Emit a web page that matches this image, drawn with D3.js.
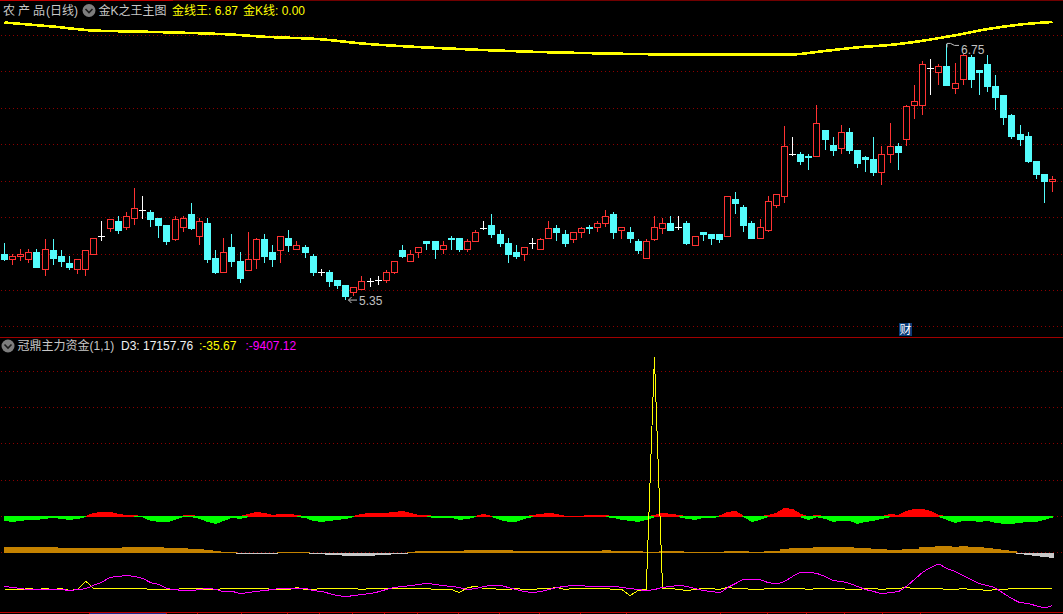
<!DOCTYPE html>
<html><head><meta charset="utf-8">
<script src="https://cdn.jsdelivr.net/npm/d3@7/dist/d3.min.js"></script>
<style>html,body{margin:0;padding:0;background:#000;overflow:hidden}svg{display:block}text{font-family:"Liberation Sans","Noto Sans CJK SC",sans-serif}</style>
</head><body><div id="c"></div>
<script>
const opens=[5.60,5.57,5.59,5.57,5.61,5.52,5.62,5.59,5.55,5.52,
5.52,5.60,5.70,5.74,5.78,5.75,5.80,5.84,5.83,5.80,
5.76,5.68,5.75,5.82,5.70,5.77,5.58,5.50,5.64,5.56,
5.51,5.57,5.68,5.61,5.62,5.69,5.63,5.64,5.59,5.50,
5.50,5.46,5.43,5.39,5.41,5.45,5.46,5.46,5.50,5.62,
5.56,5.61,5.67,5.67,5.63,5.69,5.69,5.63,5.67,5.74,
5.76,5.71,5.66,5.61,5.60,5.66,5.63,5.69,5.74,5.71,
5.68,5.72,5.75,5.75,5.77,5.82,5.73,5.72,5.67,5.58,
5.68,5.74,5.77,5.75,5.77,5.65,5.72,5.71,5.71,5.70,
5.90,5.86,5.77,5.69,5.73,5.87,5.92,6.15,6.15,6.14,
6.14,6.28,6.20,6.18,6.27,6.17,6.13,6.12,6.05,6.15,
6.19,6.23,6.42,6.42,6.62,6.60,6.63,6.51,6.56,6.68,
6.61,6.64,6.52,6.47,6.36,6.26,6.25,6.11,6.04,6.00];
const closes=[5.57,5.59,5.60,5.61,5.53,5.63,5.58,5.56,5.53,5.57,
5.62,5.69,5.70,5.79,5.73,5.81,5.85,5.84,5.79,5.76,
5.67,5.79,5.80,5.74,5.78,5.57,5.50,5.61,5.56,5.47,
5.57,5.68,5.59,5.57,5.70,5.65,5.65,5.61,5.50,5.50,
5.45,5.43,5.37,5.42,5.45,5.45,5.46,5.50,5.56,5.59,
5.60,5.64,5.66,5.63,5.65,5.68,5.63,5.67,5.72,5.74,
5.71,5.66,5.60,5.59,5.64,5.66,5.68,5.74,5.72,5.66,
5.72,5.74,5.74,5.77,5.81,5.72,5.75,5.69,5.62,5.67,
5.75,5.77,5.73,5.75,5.66,5.70,5.71,5.69,5.68,5.92,
5.88,5.76,5.69,5.75,5.89,5.93,6.19,6.15,6.11,6.13,
6.32,6.23,6.17,6.27,6.17,6.10,6.12,6.05,6.15,6.19,
6.16,6.41,6.44,6.64,6.62,6.63,6.53,6.54,6.69,6.56,
6.60,6.52,6.46,6.35,6.25,6.23,6.11,6.04,6.00,6.01];
const highs=[5.66,5.60,5.63,5.63,5.63,5.68,5.68,5.62,5.59,5.57,
5.62,5.69,5.78,5.79,5.81,5.83,5.96,5.92,5.84,5.80,
5.76,5.81,5.81,5.88,5.80,5.80,5.62,5.69,5.71,5.61,
5.72,5.69,5.71,5.65,5.70,5.73,5.67,5.65,5.60,5.52,
5.51,5.46,5.43,5.42,5.48,5.47,5.48,5.51,5.56,5.65,
5.62,5.64,5.67,5.67,5.67,5.70,5.69,5.68,5.73,5.78,
5.82,5.73,5.69,5.65,5.64,5.69,5.69,5.78,5.76,5.73,
5.72,5.75,5.76,5.78,5.84,5.83,5.75,5.75,5.68,5.68,
5.81,5.80,5.81,5.81,5.78,5.70,5.72,5.71,5.71,5.92,
5.94,5.87,5.78,5.79,5.92,5.93,6.30,6.24,6.16,6.15,
6.42,6.28,6.24,6.31,6.29,6.17,6.14,6.24,6.19,6.32,
6.21,6.42,6.53,6.66,6.67,6.64,6.75,6.65,6.70,6.69,
6.61,6.69,6.58,6.47,6.37,6.31,6.27,6.11,6.04,6.03];
const lows=[5.56,5.54,5.56,5.55,5.53,5.48,5.54,5.53,5.51,5.49,
5.48,5.60,5.67,5.72,5.71,5.73,5.76,5.79,5.75,5.69,
5.65,5.67,5.72,5.73,5.65,5.55,5.49,5.50,5.53,5.44,
5.51,5.52,5.55,5.53,5.55,5.61,5.62,5.58,5.48,5.48,
5.42,5.41,5.35,5.37,5.40,5.42,5.43,5.44,5.49,5.58,
5.56,5.58,5.62,5.57,5.60,5.62,5.61,5.61,5.67,5.73,
5.69,5.64,5.55,5.57,5.56,5.63,5.63,5.68,5.67,5.64,
5.66,5.69,5.71,5.72,5.75,5.68,5.68,5.66,5.60,5.57,
5.67,5.71,5.73,5.73,5.65,5.65,5.67,5.65,5.66,5.70,
5.82,5.72,5.68,5.69,5.72,5.85,5.88,6.14,6.09,6.06,
6.13,6.17,6.14,6.15,6.15,6.07,6.05,6.03,5.98,6.10,
6.06,6.19,6.34,6.36,6.47,6.53,6.52,6.48,6.53,6.51,
6.47,6.49,6.39,6.31,6.23,6.19,6.10,6.01,5.88,5.94];
const goldDays=[0,6,11,17,22,28,32,39,44,52,59,66,74,81,88,95,97,101,105,109,113,117,121,125,129];
const goldLine=[6.87,6.848,6.826,6.82,6.814,6.804,6.792,6.778,6.755,6.733,6.719,6.708,6.70,6.695,6.693,6.694,6.695,6.714,6.734,6.747,6.77,6.80,6.834,6.859,6.873];
const priceTicks=[6.8,6.6,6.4,6.2,6.0,5.8,5.6,5.4,5.2];
const mainFund=[-3.7,-4.7,-3.7,-2.7,-2.7,-1.7,-0.7,-1.7,-2.7,-1.7,
0.3,3.3,4.3,4.3,2.3,1.3,1.3,-0.3,-3.7,-4.7,
-5.3,-2.7,0.7,1.3,-1.7,-4.7,-6.7,-3.7,-0.7,-1.7,
2.3,4.3,3.3,1.3,2.3,2.3,1.3,-0.7,-3.7,-4.7,
-3.7,-2.7,-1.7,0.3,2.3,3.3,3.3,3.3,4.3,5.3,
3.3,1.3,1.3,-0.7,-0.7,-0.7,-2.7,-1.7,0.3,2.3,
0.3,-2.7,-4.7,-4.7,-1.7,1.3,2.3,3.3,2.3,0.3,
0.3,0.3,1.3,1.3,1.3,-0.7,-2.7,-3.7,-4.7,-2.7,
1.3,3.3,2.3,1.3,-1.7,-2.7,-0.7,-0.7,0.7,4.3,
5.3,0.3,-4.7,-2.7,1.3,3.3,8.3,7.3,2.3,-2.7,
1.3,-1.7,-4.7,-3.7,-3.7,-6.7,-4.7,-3.7,-1.7,2.3,
1.3,5.3,7.3,7.3,5.3,1.3,-2.7,-5.7,-3.7,-3.7,
-4.7,-3.7,-5.7,-6.7,-6.7,-5.7,-4.7,-4.7,-2.7,-0.3];
const trendBars=[6,6,6,6,6,6,6,5,5,5,
5,5,5,5,5,6,6,6,6,6,
5,5,5,4,4,3,2,1,1,-1,
-1,-1,-1,-1,1,1,1,1,-1,-1,
-2,-2,-3,-3,-3,-3,-2,-2,-1,-1,
1,2,2,2,2,2,2,3,3,3,
3,3,3,2,2,2,2,2,2,2,
2,2,2,2,3,2,2,2,2,1,
1,2,2,2,1,1,1,1,1,2,
2,2,1,1,2,2,4,5,5,5,
6,6,6,6,6,5,5,4,4,3,
3,4,4,6,6,7,7,6,7,6,
6,5,4,3,2,-1,-2,-3,-4,-5];
const d3Line=[-110,-110,-110,-36,-110,-36,-110,-36,-185,-110,
511,-36,-36,-36,-36,-36,-36,-36,-110,-110,
-110,-110,-36,-36,-36,-110,-110,-36,-36,-36,
-36,-36,-36,-110,-110,-110,39,-110,-110,-36,
-36,-36,-36,-36,-110,-36,-36,-36,-36,-36,
-36,-36,-36,-110,-110,-110,-334,39,114,-36,
-36,-110,-110,-36,-110,-110,-36,-36,39,-110,
-36,-36,-36,-36,-36,-110,-110,-558,-185,-110,
17157.76,-36,-36,-110,-185,-110,-36,-36,-110,39,
-36,-36,-110,-110,-36,-36,-36,-36,-36,-110,
-36,-36,-36,-36,-110,-110,-36,-36,-110,-36,
-36,39,-36,-36,-36,-36,-110,-110,-36,-110,
-110,-185,-110,-110,-36,-36,-36,-36,-36,-35.67];
const flowLine=[90,-410,-910,-1410,-1410,-1410,-1410,-1410,-1910,-1410,
-910,760,2260,4590,5090,5590,5090,4090,2090,1090,
-910,-1410,-1910,-1910,-1410,-910,-1410,-2410,-2410,-3410,
-2910,-2410,-1910,-1410,-910,-910,-910,-910,-1910,-2410,
-3410,-4410,-4910,-4410,-3910,-3410,-2580,-1410,-410,90,
590,1090,1590,1090,590,90,-410,-1410,-910,90,
590,590,-410,-1410,-2410,-2910,-2410,-1410,-410,90,
590,590,90,90,90,90,-410,-910,-1410,-1910,
-1410,-410,90,590,90,-910,-1910,-2410,-2910,-410,
1590,3590,3590,3430,2090,1590,2590,5090,7090,7090,
6590,5090,3090,2590,1590,90,-1410,-2410,-3410,-2910,
-2410,90,3590,7090,9590,11090,9090,7590,5590,3590,
1590,590,-740,-3410,-5910,-7910,-8410,-9570,-10410,-9407.12];
const lowerTicks=[30,20,10,0,-10,-20];
const monthTicks=[10.5,20,23.7,29.2,34.8,38.8,42.8,46.8,50.8,55.9,60.9,65.8,70.9,76.6,88.1,93.9,98.7,103.4,108.1,112.8];
const days=d3.range(opens.length);

const W=1063,H=614;
const svg=d3.select("#c").append("svg").attr("width",W).attr("height",H).style("background","#000");
const x=d3.scaleLinear().domain([0,129]).range([4.5,1052.5]);
const px=i=>Math.floor(x(i))+0.5;
const y=d3.scaleLinear().domain([6.8,5.2]).range([35.3,326.9]);
const yFund=d3.scaleLinear().domain([-10,10]).range([526.7,506.7]);
const yTrend=d3.scaleLinear().domain([-10,10]).range([563,543]);
const yD3=d3.scaleLinear().domain([-35.67,17157.76]).range([588.5,357]);
const yFlow=d3.scaleLinear().domain([-9407.12,-9407.12+10000]).range([605.5,585.5]);
const yGrid=d3.scaleLinear().domain([30,-20]).range([371.3,552.8]);
const RED="#ff3232",CY="#54fcfc",GRID="#8c0000";

const grid=svg.append("g").attr("stroke",GRID).attr("stroke-dasharray","1 3").attr("shape-rendering","crispEdges");
grid.selectAll(".a").data(priceTicks).join("line").attr("x1",1).attr("x2",W)
 .attr("y1",d=>Math.floor(y(d))+.5).attr("y2",d=>Math.floor(y(d))+.5);
grid.selectAll(".b").data(lowerTicks).join("line").attr("x1",1).attr("x2",W)
 .attr("y1",d=>Math.floor(yGrid(d))+.5).attr("y2",d=>Math.floor(yGrid(d))+.5);

const frame=svg.append("g").attr("shape-rendering","crispEdges");
frame.append("line").attr("x1",0).attr("x2",173).attr("y1",.5).attr("y2",.5).attr("stroke","#c00000");
frame.append("line").attr("x1",173).attr("x2",W).attr("y1",.5).attr("y2",.5).attr("stroke","#700000");
frame.append("line").attr("x1",0).attr("x2",W).attr("y1",337.5).attr("y2",337.5).attr("stroke","#a00000");
frame.append("line").attr("x1",0).attr("x2",W).attr("y1",612.5).attr("y2",612.5).attr("stroke","#c00000");
frame.append("line").attr("x1",x(10.5)).attr("x2",x(20)).attr("y1",613.5).attr("y2",613.5).attr("stroke","#1c2c90");
frame.selectAll(".t").data(monthTicks).join("line").attr("x1",d=>px(d)).attr("x2",d=>px(d)).attr("y1",613).attr("y2",614).attr("stroke","#c00000");

svg.append("path").datum(goldLine).attr("fill","none").attr("stroke","#ffff00").attr("stroke-width",2.6).attr("shape-rendering","crispEdges")
 .attr("d",d3.line().x((d,i)=>x(goldDays[i])).y(d=>y(d)).curve(d3.curveMonotoneX));

const c=svg.append("g").attr("shape-rendering","crispEdges");
days.forEach(i=>{
  const o=opens[i],cl=closes[i],up=cl>o,down=cl<o;
  const col=up?RED:down?CY:"#ffffff";
  const X=px(i);
  const top=Math.round(y(Math.max(o,cl))),bot=Math.round(y(Math.min(o,cl)));
  if(up||!down){
    c.append("line").attr("x1",X).attr("x2",X).attr("y1",y(highs[i])).attr("y2",top).attr("stroke",col);
    c.append("line").attr("x1",X).attr("x2",X).attr("y1",bot).attr("y2",y(lows[i])).attr("stroke",col);
  } else {
    c.append("line").attr("x1",X).attr("x2",X).attr("y1",y(highs[i])).attr("y2",y(lows[i])).attr("stroke",col);
  }
  if(up) c.append("rect").attr("x",X-3).attr("width",6).attr("y",top+.5).attr("height",Math.max(1,bot-top)).attr("fill","#000").attr("stroke",col);
  else if(down) c.append("rect").attr("x",X-3.5).attr("width",7).attr("y",top).attr("height",Math.max(1,bot-top+1)).attr("fill",col);
  else c.append("line").attr("x1",X-3.5).attr("x2",X+3.5).attr("y1",top+.5).attr("y2",top+.5).attr("stroke",col);
});

const mk=svg.append("g");
mk.append("path").attr("d",`M${px(42)+3} ${y(5.35)+.5}H357M${px(42)+3} ${y(5.35)+.5}l3 -3M${px(42)+3} ${y(5.35)+.5}l3 3`).attr("fill","none").attr("stroke","#c0c0c0");
mk.append("text").attr("x",359).attr("y",y(5.35)+5).attr("font-size",12).attr("fill","#c0c0c0").text("5.35");
mk.append("path").attr("d",`M${px(116)+.5} ${y(6.75)+3}V${y(6.75)-1}H${px(116)+4}l4 2H959`).attr("fill","none").attr("stroke","#c0c0c0");
mk.append("text").attr("x",961).attr("y",y(6.75)+9.5).attr("font-size",12).attr("fill","#c0c0c0").text("6.75");

svg.append("rect").attr("x",899).attr("y",323).attr("width",13).attr("height",13).attr("fill","#0a3c78");
svg.append("text").attr("x",905.5).attr("y",334).attr("text-anchor","middle").attr("font-size",12).attr("fill","#fff").text("财");

const lower=svg.append("g").attr("shape-rendering","crispEdges");
const fundArea=test=>d3.area().defined((d,i,a)=>test(d)||test(a[i-1]??d)||test(a[i+1]??d))
  .x((d,i)=>x(i)).y0(yFund(0)).y1(d=>test(d)?yFund(d):yFund(0));
lower.append("path").datum(mainFund).attr("fill","#ff0000").attr("stroke","#ff0000").attr("d",fundArea(d=>d>0));
lower.append("path").datum(mainFund).attr("fill","#00ff00").attr("stroke","#00ff00").attr("d",fundArea(d=>d<=0));

lower.selectAll(".tb").data(trendBars).join("rect")
 .attr("x",(d,i)=>Math.max(4,Math.round(x(i)-4)))
 .attr("width",(d,i)=>Math.min(1053,Math.round(x(i)+4))-Math.max(4,Math.round(x(i)-4))+1)
 .attr("y",d=>Math.round(yTrend(Math.max(d,0))))
 .attr("height",d=>Math.abs(Math.round(yTrend(d))-Math.round(yTrend(0))))
 .attr("fill",d=>d>0?"#c48200":"#c8c8c8");

lower.append("path").datum(d3Line).attr("fill","none").attr("stroke","#ffff00")
 .attr("d",d3.line().x((d,i)=>x(i)).y(d=>yD3(d)));
lower.append("path").datum(flowLine).attr("fill","none").attr("stroke","#ff00ff")
 .attr("d",d3.line().x((d,i)=>x(i)).y(d=>yFlow(d)).curve(d3.curveMonotoneX));

function icon(cx,cy){
  svg.append("circle").attr("cx",cx).attr("cy",cy).attr("r",6.5).attr("fill","#7d7d7d");
  svg.append("path").attr("d",`M${cx-3.5} ${cy-1.5}L${cx} ${cy+2}L${cx+3.5} ${cy-1.5}`).attr("fill","none").attr("stroke","#1a1a1a").attr("stroke-width",1.6);
}
function t(xp,yp,s,col){return svg.append("text").attr("x",xp).attr("y",yp).attr("fill",col).attr("font-size",12).text(s);}
t(3,15,"农","#c8c8c8");t(18,15,"产","#c8c8c8");t(33,15,"品","#c8c8c8");t(46,15,"(日线)","#c8c8c8");
icon(89,10.5);
t(98.5,15,"金K之王主图","#c8c8c8");
t(172,15,"金线王: 6.87","#ffff00");
t(243,15,"金K线: 0.00","#ffff00");
icon(8,346);
t(17.5,350,"冠鼎主力资金(1,1)","#c8c8c8");
t(121,350,"D3: 17157.76","#f0f0f0");
t(199,350,":-35.67","#ffff00");
t(245.5,350,":-9407.12","#ff00ff");
</script></body></html>
